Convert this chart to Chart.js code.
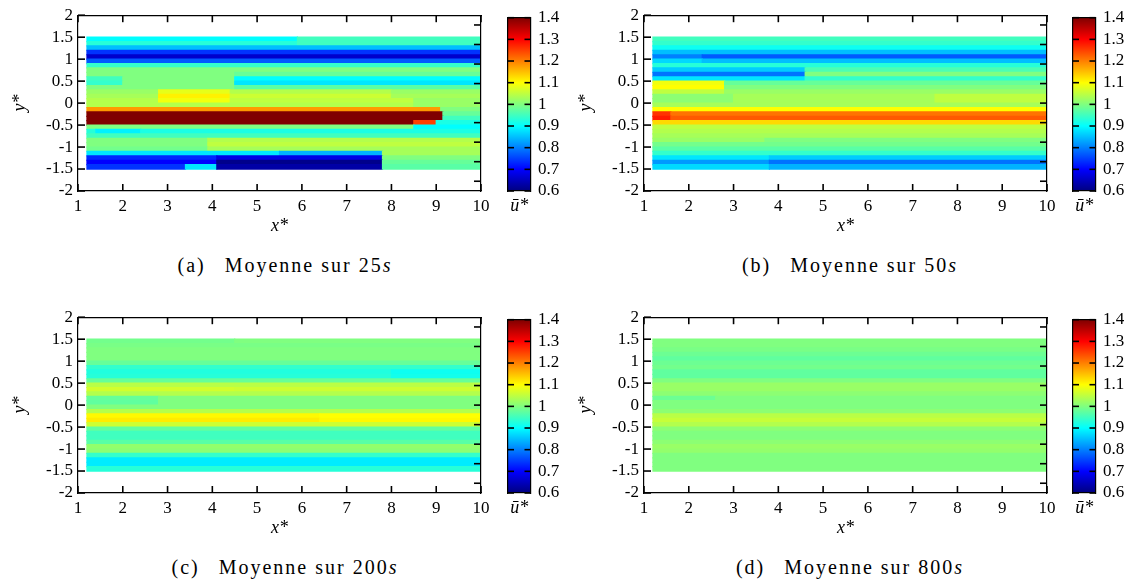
<!DOCTYPE html>
<html>
<head>
<meta charset="utf-8">
<script src="https://cdn.jsdelivr.net/npm/chart.js@4.4.0/dist/chart.umd.min.js"></script>
<style>
  body { margin: 0; background: #fff; width: 1136px; height: 583px; position: relative; overflow: hidden; }
  canvas { position: absolute; }
  .cap { position: absolute; width: 570px; text-align: center; font-family: 'Liberation Serif', 'Liberation Sans', sans-serif;
         font-size: 20px; letter-spacing: 2px; line-height: 20px; color: #000; }
</style>
</head>
<body>
<canvas id="mapA" width="500" height="240" style="left:0;top:0"></canvas>
<canvas id="barA" width="70" height="240" style="left:500px;top:0"></canvas>
<canvas id="mapB" width="500" height="240" style="left:566px;top:0"></canvas>
<canvas id="barB" width="70" height="240" style="left:1065px;top:0"></canvas>
<canvas id="mapC" width="500" height="240" style="left:0;top:302px"></canvas>
<canvas id="barC" width="70" height="240" style="left:500px;top:302px"></canvas>
<canvas id="mapD" width="500" height="240" style="left:566px;top:302px"></canvas>
<canvas id="barD" width="70" height="240" style="left:1065px;top:302px"></canvas>

<div class="cap" style="left:0;top:255px">(a)&ensp; Moyenne sur 25<i>s</i></div>
<div class="cap" style="left:565px;top:255px">(b)&ensp; Moyenne sur 50<i>s</i></div>
<div class="cap" style="left:0;top:557px">(c)&ensp; Moyenne sur 200<i>s</i></div>
<div class="cap" style="left:565px;top:557px">(d)&ensp; Moyenne sur 800<i>s</i></div>

<script>
// row centres (y*), each row 0.1 high, top to bottom
const rowY = [1.45, 1.35, 1.25, 1.15, 1.05, 0.95, 0.85, 0.75, 0.65, 0.55,
              0.45, 0.35, 0.25, 0.15, 0.05, -0.05, -0.15, -0.25, -0.35, -0.45,
              -0.55, -0.65, -0.75, -0.85, -0.95, -1.05, -1.15, -1.25, -1.35, -1.45];
const xTicks = [1, 2, 3, 4, 5, 6, 7, 8, 9, 10];
const yTicks = [-2, -1.5, -1, -0.5, 0, 0.5, 1, 1.5, 2];
const cbTicks = [0.6, 0.7, 0.8, 0.9, 1, 1.1, 1.2, 1.3, 1.4];
const xEnd = 10;

// each row: [x start, u] segments, a segment runs to the next start (or x = 10)
const meanA25 = [
  [[1.2, 0.9], [5.9, 0.95]],
  [[1.2, 0.93], [5.9, 0.95]],
  [[1.2, 0.85]],
  [[1.2, 0.74]],
  [[1.2, 0.66]],
  [[1.2, 0.77]],
  [[1.2, 0.94]],
  [[1.2, 1.0]],
  [[1.2, 1.0], [4.5, 0.98]],
  [[1.2, 0.95], [2.0, 1.0], [4.5, 0.9]],
  [[1.2, 0.94], [2.0, 1.0], [4.5, 0.88]],
  [[1.2, 1.0], [4.5, 0.97]],
  [[1.2, 1.02], [2.8, 1.08], [4.4, 1.04], [8.0, 1.02]],
  [[1.2, 1.03], [2.8, 1.11], [4.4, 1.06], [8.0, 1.03]],
  [[1.2, 1.04], [2.8, 1.09], [4.4, 1.05], [8.5, 1.02]],
  [[1.2, 1.04], [8.5, 1.02]],
  [[1.2, 1.18], [9.1, 1.0]],
  [[1.2, 1.45], [9.15, 0.98]],
  [[1.2, 1.45], [9.15, 0.95]],
  [[1.2, 1.42], [8.5, 1.25], [9.0, 0.92]],
  [[1.2, 1.0], [8.5, 0.9]],
  [[1.2, 0.93], [1.4, 0.89], [2.4, 0.92]],
  [[1.2, 0.95]],
  [[1.2, 1.0], [3.9, 1.04]],
  [[1.2, 1.0], [3.9, 1.05]],
  [[1.2, 0.99], [3.9, 1.03]],
  [[1.2, 0.88], [5.5, 0.84], [7.8, 1.03]],
  [[1.2, 0.73], [4.1, 0.68], [7.8, 1.0]],
  [[1.2, 0.7], [4.1, 0.61], [7.8, 0.98]],
  [[1.2, 0.74], [3.4, 0.88], [4.1, 0.63], [7.8, 0.97]]
];

const meanB50 = [
  [[1.2, 0.95]],
  [[1.2, 0.94]],
  [[1.2, 0.91]],
  [[1.2, 0.85]],
  [[1.2, 0.8], [2.3, 0.77]],
  [[1.2, 0.87], [2.3, 0.85]],
  [[1.2, 0.93]],
  [[1.2, 0.86], [4.6, 0.96]],
  [[1.2, 0.79], [4.6, 1.0]],
  [[1.2, 0.88], [4.6, 0.94]],
  [[1.2, 1.09], [2.8, 0.98]],
  [[1.2, 1.1], [2.8, 1.0]],
  [[1.2, 1.05], [2.8, 1.02]],
  [[1.2, 1.01], [3.0, 1.03], [7.5, 1.05]],
  [[1.2, 1.01], [3.0, 1.03], [7.5, 1.05]],
  [[1.2, 1.03]],
  [[1.2, 1.1]],
  [[1.2, 1.26], [1.6, 1.21]],
  [[1.2, 1.28], [1.6, 1.23]],
  [[1.2, 1.13]],
  [[1.2, 1.05]],
  [[1.2, 1.04]],
  [[1.2, 1.03]],
  [[1.2, 1.02], [3.7, 1.0]],
  [[1.2, 0.99]],
  [[1.2, 0.97]],
  [[1.2, 0.94]],
  [[1.2, 0.88], [3.8, 0.86]],
  [[1.2, 0.82], [3.8, 0.79]],
  [[1.2, 0.87], [3.8, 0.84]]
];

const meanC200 = [
  [[1.2, 0.99], [4.5, 1.0]],
  [[1.2, 0.995]],
  [[1.2, 1.0]],
  [[1.2, 1.0]],
  [[1.2, 1.0]],
  [[1.2, 0.98]],
  [[1.2, 0.94]],
  [[1.2, 0.925], [8.0, 0.91]],
  [[1.2, 0.93], [8.0, 0.915]],
  [[1.2, 0.98]],
  [[1.2, 1.045]],
  [[1.2, 1.065], [4.5, 1.06]],
  [[1.2, 1.04]],
  [[1.2, 0.98], [2.8, 1.0]],
  [[1.2, 0.975], [2.8, 1.0]],
  [[1.2, 1.0]],
  [[1.2, 1.04]],
  [[1.2, 1.105], [6.4, 1.1]],
  [[1.2, 1.115], [6.4, 1.105]],
  [[1.2, 1.06]],
  [[1.2, 0.975]],
  [[1.2, 0.95]],
  [[1.2, 0.95]],
  [[1.2, 0.97]],
  [[1.2, 1.015]],
  [[1.2, 1.01]],
  [[1.2, 0.94]],
  [[1.2, 0.885]],
  [[1.2, 0.885]],
  [[1.2, 0.93]]
];

const meanD800 = [
  [[1.2, 1.0]],
  [[1.2, 1.0]],
  [[1.2, 0.995]],
  [[1.2, 0.985]],
  [[1.2, 0.975]],
  [[1.2, 0.985]],
  [[1.2, 0.99]],
  [[1.2, 0.975]],
  [[1.2, 0.975]],
  [[1.2, 1.0]],
  [[1.2, 1.02]],
  [[1.2, 1.02]],
  [[1.2, 1.01]],
  [[1.2, 0.985], [2.6, 1.0]],
  [[1.2, 1.0]],
  [[1.2, 1.0]],
  [[1.2, 1.01]],
  [[1.2, 1.045]],
  [[1.2, 1.055]],
  [[1.2, 1.04]],
  [[1.2, 1.01]],
  [[1.2, 1.0]],
  [[1.2, 1.0]],
  [[1.2, 1.01]],
  [[1.2, 1.02]],
  [[1.2, 1.015]],
  [[1.2, 1.0]],
  [[1.2, 1.0]],
  [[1.2, 1.0]],
  [[1.2, 1.0]]
];

Chart.defaults.font.family = "'Liberation Serif', 'Liberation Sans', sans-serif";
Chart.defaults.font.size = 17;
Chart.defaults.color = '#000';

// jet colormap on [0.6, 1.4]
function jet(v) {
  const t = Math.min(1, Math.max(0, (v - 0.6) / 0.8));
  const c = f => Math.round(255 * Math.min(1, Math.max(0, 1.5 - Math.abs(4 * t - f))));
  return 'rgb(' + c(3) + ',' + c(2) + ',' + c(1) + ')';
}

// tick marks pointing into the plot, on every side, at each scale's ticks
function innerTicks(len) {
  return {
    id: 'innerTicks',
    afterDraw(chart) {
      const ctx = chart.ctx;
      const a = chart.chartArea;
      ctx.save();
      ctx.strokeStyle = '#000';
      ctx.lineWidth = 1.6;
      Object.values(chart.scales).forEach(scale => {
        if (scale.type === 'category') return;
        const pos = scale.options.position;
        scale.ticks.forEach(t => {
          const p = scale.getPixelForValue(t.value);
          ctx.beginPath();
          if (pos === 'bottom') { ctx.moveTo(p, a.bottom); ctx.lineTo(p, a.bottom - len); }
          else if (pos === 'top') { ctx.moveTo(p, a.top); ctx.lineTo(p, a.top + len); }
          else if (pos === 'left') { ctx.moveTo(a.left, p); ctx.lineTo(a.left + len, p); }
          else { ctx.moveTo(a.right, p); ctx.lineTo(a.right - len, p); }
          ctx.stroke();
        });
      });
      ctx.restore();
    }
  };
}

const setTicks = vals => scale => { scale.ticks = vals.map(v => ({ value: v })); };
const border = { color: '#000', width: 1.2, z: 1 };
const noGrid = { display: false, drawTicks: false, tickLength: 0, offset: false };

function drawMap(id, rows) {
  const cells = [];
  const colors = [];
  rows.forEach((segs, i) => {
    segs.forEach((s, j) => {
      const x1 = j + 1 < segs.length ? segs[j + 1][0] : xEnd;
      cells.push({ y: rowY[i], x: [s[0], x1] });
      colors.push(jet(s[1]));
    });
  });

  new Chart(document.getElementById(id), {
    type: 'bar',
    data: {
      datasets: [{
        data: cells,
        backgroundColor: colors,
        barPercentage: 1,
        categoryPercentage: 1,
        inflateAmount: 0.6,
        xAxisID: 'x',
        yAxisID: 'y'
      }]
    },
    plugins: [innerTicks(7)],
    options: {
      indexAxis: 'y',
      responsive: false,
      animation: false,
      devicePixelRatio: 1,
      events: [],
      layout: { padding: { top: 12, right: 19, left: 0, bottom: 0 } },
      plugins: { legend: { display: false }, tooltip: { enabled: false } },
      scales: {
        x: {
          type: 'linear', position: 'bottom', min: 1, max: 10,
          afterBuildTicks: setTicks(xTicks),
          afterFit: s => { s.height = 49; },
          grid: noGrid, border,
          ticks: { padding: 5, autoSkip: false, maxRotation: 0, callback: v => String(v) },
          title: { display: true, text: 'x*', font: { style: 'italic', size: 18 }, padding: { top: 0, bottom: 3 } }
        },
        x2: {
          type: 'linear', position: 'top', min: 1, max: 10,
          afterBuildTicks: setTicks(xTicks),
          afterFit: s => { s.height = 0; },
          grid: noGrid, border,
          ticks: { display: false }
        },
        y: {
          type: 'linear', position: 'left', min: -2, max: 2, offset: false,
          afterBuildTicks: setTicks(yTicks),
          afterFit: s => { s.width = 78; },
          grid: noGrid, border,
          ticks: { padding: 5, autoSkip: false, callback: v => String(v) },
          title: { display: true, text: 'y*', font: { style: 'italic', size: 18 }, padding: { top: 9, bottom: 0 } }
        },
        y2: {
          type: 'linear', position: 'right', min: -2, max: 2,
          afterBuildTicks: setTicks(yTicks),
          afterFit: s => { s.width = 0; },
          grid: noGrid, border,
          ticks: { display: false }
        }
      }
    }
  });
}

function jetGradient(context) {
  const area = context.chart.chartArea;
  if (!area) return '#80ff80';
  const g = context.chart.ctx.createLinearGradient(0, area.bottom, 0, area.top);
  g.addColorStop(0, '#00007f');
  g.addColorStop(0.125, '#0000ff');
  g.addColorStop(0.375, '#00ffff');
  g.addColorStop(0.625, '#ffff00');
  g.addColorStop(0.875, '#ff0000');
  g.addColorStop(1, '#7f0000');
  return g;
}

function drawBar(id) {
  new Chart(document.getElementById(id), {
    type: 'bar',
    data: {
      labels: ['ū*'],
      datasets: [{
        data: [[cbTicks[0], cbTicks[cbTicks.length - 1]]],
        backgroundColor: jetGradient,
        barPercentage: 1,
        categoryPercentage: 1,
        xAxisID: 'x',
        yAxisID: 'y'
      }]
    },
    plugins: [innerTicks(6)],
    options: {
      responsive: false,
      animation: false,
      devicePixelRatio: 1,
      events: [],
      layout: { padding: { top: 12, left: 8, right: 0, bottom: 0 } },
      plugins: { legend: { display: false }, tooltip: { enabled: false } },
      scales: {
        x: {
          position: 'bottom',
          grid: noGrid, border,
          ticks: { padding: 4, font: { style: 'italic', size: 18 } },
          afterFit: s => { s.height = 49; }
        },
        x2: {
          type: 'category', position: 'top',
          grid: noGrid, border,
          ticks: { display: false },
          afterFit: s => { s.height = 0; }
        },
        y: {
          type: 'linear', position: 'left', min: 0.6, max: 1.4,
          afterBuildTicks: setTicks(cbTicks),
          grid: noGrid, border,
          ticks: { display: false },
          afterFit: s => { s.width = 0; }
        },
        y1: {
          type: 'linear', position: 'right', min: 0.6, max: 1.4,
          afterBuildTicks: setTicks(cbTicks),
          grid: noGrid, border,
          ticks: { padding: 7.5, autoSkip: false, callback: v => String(v) },
          afterFit: s => { s.width = 39.5; }
        }
      }
    }
  });
}

drawMap('mapA', meanA25);
drawMap('mapB', meanB50);
drawMap('mapC', meanC200);
drawMap('mapD', meanD800);
['barA', 'barB', 'barC', 'barD'].forEach(drawBar);
</script>
</body>
</html>
